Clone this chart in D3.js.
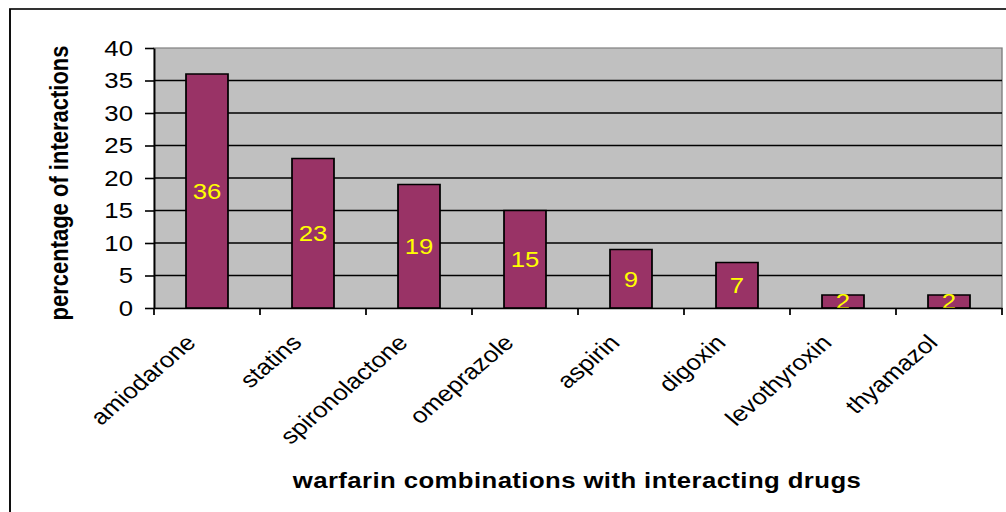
<!DOCTYPE html>
<html>
<head>
<meta charset="utf-8">
<script src="https://cdn.jsdelivr.net/npm/d3@7"></script>
<style>
  html, body { margin: 0; padding: 0; background: #fff; }
  svg { display: block; font-family: "Liberation Sans", Arial, sans-serif; }
</style>
</head>
<body>
<script>
// Warfarin interaction chart: share of interactions per co-prescribed drug.
const categories = ["amiodarone", "statins", "spironolactone", "omeprazole",
                    "aspirin", "digoxin", "levothyroxin", "thyamazol"];
const values = [36, 23, 19, 15, 9, 7, 2, 2];
const yTicks = [0, 5, 10, 15, 20, 25, 30, 35, 40];
const yTitle = "percentage of interactions";
const xTitle = "warfarin combinations with interacting drugs";

// The chart is drawn in a slightly condensed coordinate space and widened
// to the page, giving the broad letterforms of the original export.
const W = 1006, H = 512;
const S = 1.17;
const VW = W / S;
const sx = px => px / S;

const plot = { left: sx(154), right: sx(1002), top: 48, bottom: 308 };

const svg = d3.select("body").append("svg")
  .attr("width", W).attr("height", H)
  .attr("viewBox", `0 0 ${VW} ${H}`)
  .attr("preserveAspectRatio", "none");

// outer chart frame (runs off the right and bottom edges)
svg.append("rect")
  .attr("x", sx(10)).attr("y", 9)
  .attr("width", VW).attr("height", H)
  .attr("fill", "#fff").attr("stroke", "#000").attr("stroke-width", 1.6);

const x = d3.scaleBand().domain(categories).range([plot.left, plot.right]).padding(0);
const y = d3.scaleLinear().domain([0, 40]).range([plot.bottom, plot.top]);

// plot area
svg.append("rect")
  .attr("x", plot.left).attr("y", plot.top)
  .attr("width", plot.right - plot.left).attr("height", plot.bottom - plot.top)
  .attr("fill", "#C0C0C0").attr("stroke", "#808080").attr("stroke-width", 1.2);

// horizontal gridlines
svg.append("g").selectAll("line")
  .data(yTicks.filter(t => t > 0 && t < 40))
  .join("line")
  .attr("x1", plot.left).attr("x2", plot.right)
  .attr("y1", d => y(d)).attr("y2", d => y(d))
  .attr("stroke", "#000").attr("stroke-width", 1.6);

// bars
const barW = x.bandwidth() * 0.396;
svg.append("g").selectAll("rect")
  .data(categories.map((c, i) => ({ c, v: values[i] })))
  .join("rect")
  .attr("x", d => x(d.c) + (x.bandwidth() - barW) / 2)
  .attr("y", d => y(d.v))
  .attr("width", barW)
  .attr("height", d => y(0) - y(d.v))
  .attr("fill", "#993366")
  .attr("stroke", "#000").attr("stroke-width", 1.5);

// value labels inside bars
svg.append("g").selectAll("text")
  .data(categories.map((c, i) => ({ c, v: values[i] })))
  .join("text")
  .attr("x", d => x(d.c) + x.bandwidth() / 2)
  .attr("y", d => (y(d.v) + y(0)) / 2)
  .attr("dy", "0.36em")
  .attr("text-anchor", "middle")
  .attr("font-size", 22)
  .attr("fill", "#FFFF00")
  .text(d => d.v);

// y axis
const yAxis = svg.append("g")
  .attr("transform", `translate(${plot.left},0)`)
  .call(d3.axisLeft(y).tickValues(yTicks).tickSize(sx(9)).tickSizeOuter(0).tickPadding(sx(12)));
yAxis.select(".domain").attr("stroke", "#000").attr("stroke-width", 1.5);
yAxis.selectAll(".tick line").attr("stroke", "#000").attr("stroke-width", 1.6);
yAxis.selectAll(".tick text")
  .attr("font-size", 22).attr("fill", "#000")
  .attr("font-family", "Liberation Sans, Arial, sans-serif");

// x axis with labels and category boundary ticks
const xAxis = svg.append("g")
  .attr("transform", `translate(0,${plot.bottom})`)
  .call(d3.axisBottom(x).tickSize(0).tickSizeOuter(0));
xAxis.select(".domain").attr("stroke", "#000").attr("stroke-width", 1.6);
xAxis.selectAll(".tick text")
  .attr("font-size", 22).attr("fill", "#000")
  .attr("font-family", "Liberation Sans, Arial, sans-serif")
  .attr("text-anchor", "end")
  .attr("x", 0).attr("y", 0).attr("dy", null)
  .attr("transform", `translate(${sx(-10)},${344 - plot.bottom}) rotate(-45)`);

xAxis.append("g").selectAll("line")
  .data([...categories.map(c => x(c)), x.range()[1]])
  .join("line")
  .attr("x1", d => d).attr("x2", d => d)
  .attr("y1", 0).attr("y2", 7)
  .attr("stroke", "#000").attr("stroke-width", 1.5);

// axis titles
svg.append("text")
  .attr("transform", `translate(${sx(67.5)},183) rotate(-90)`)
  .attr("text-anchor", "middle")
  .attr("font-size", 22).attr("font-weight", "bold")
  .text(yTitle);

svg.append("text")
  .attr("x", sx(577)).attr("y", 488)
  .attr("text-anchor", "middle")
  .attr("font-size", 22).attr("font-weight", "bold")
  .attr("letter-spacing", 0.35)
  .text(xTitle);
</script>
</body>
</html>
